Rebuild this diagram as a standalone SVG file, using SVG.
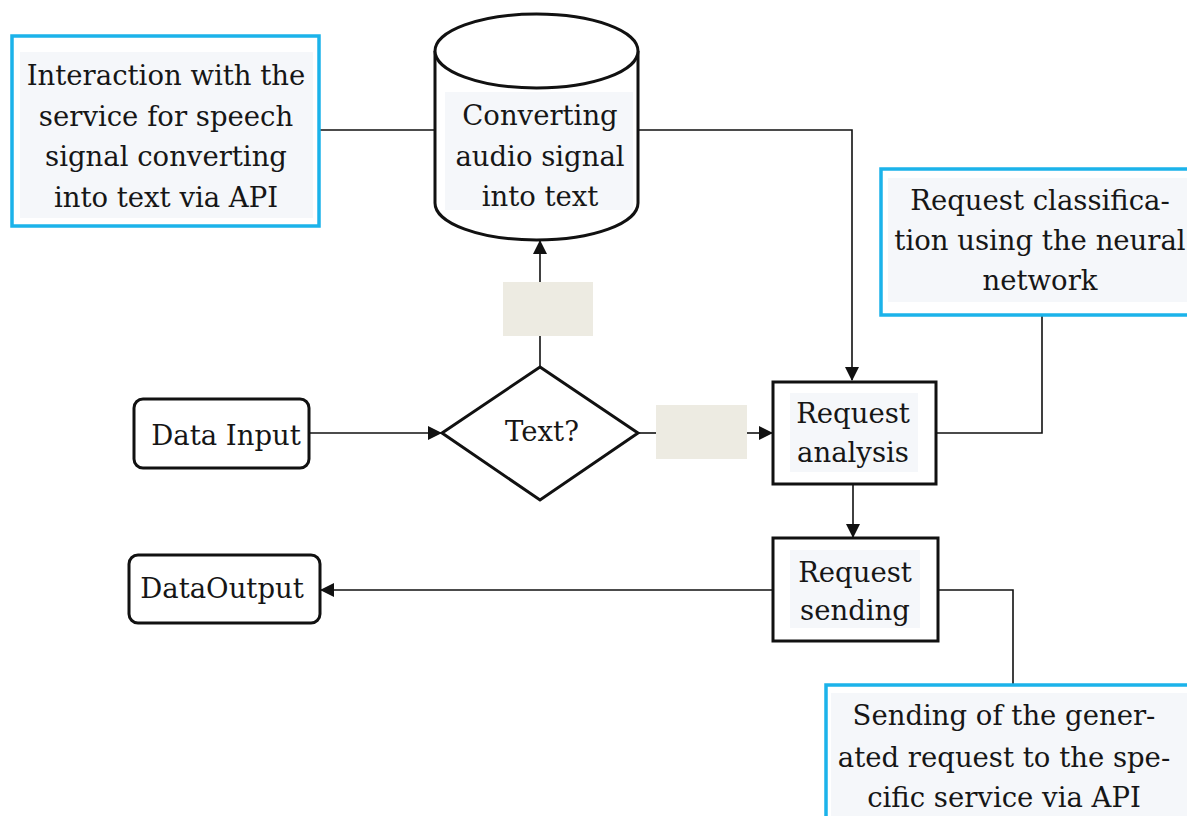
<svg xmlns="http://www.w3.org/2000/svg" width="1187" height="816" viewBox="0 0 1187 816">
  <defs>
    <style>
      .t { font-family: "DejaVu Serif", "Liberation Serif", serif; font-size: 27.5px; fill: #161616; text-anchor: middle; }
      .node { fill: #ffffff; stroke: #111111; stroke-width: 3; }
      .note { fill: #ffffff; stroke: #1bb3ea; stroke-width: 3.5; }
      .pad { fill: #f5f7fa; }
      .lbl { fill: #edebe2; }
      .wire { fill: none; stroke: #111111; stroke-width: 1.6; }
    </style>
    <marker id="arrow" viewBox="0 0 14 14" refX="13" refY="7" markerWidth="14" markerHeight="14" markerUnits="userSpaceOnUse" orient="auto">
      <path d="M0,0 L14,7 L0,14 Z" fill="#111111"/>
    </marker>
  </defs>

  <rect width="1187" height="816" fill="#ffffff"/>

  <!-- connectors -->
  <g id="connectors">
    <path class="wire" d="M319,130 H436"/>
    <path class="wire" d="M638,130 H852 V380" marker-end="url(#arrow)"/>
    <path class="wire" d="M309,433 H441" marker-end="url(#arrow)"/>
    <path class="wire" d="M540,367 V336"/>
    <path class="wire" d="M540,282 V241" marker-end="url(#arrow)"/>
    <path class="wire" d="M638,433 H656"/>
    <path class="wire" d="M747,433 H772" marker-end="url(#arrow)"/>
    <path class="wire" d="M1042,315 V433 H937"/>
    <path class="wire" d="M853,484 V537" marker-end="url(#arrow)"/>
    <path class="wire" d="M773,590 H321" marker-end="url(#arrow)"/>
    <path class="wire" d="M938,590 H1013 V685"/>
    <rect class="lbl" x="503" y="282" width="90" height="54"/>
    <rect class="lbl" x="656" y="405" width="91" height="54"/>
  </g>

  <!-- speech service note -->
  <g id="note-speech">
    <rect class="note" x="12" y="36" width="307" height="190"/>
    <rect class="pad" x="20" y="52" width="293" height="166"/>
    <text class="t" x="166" y="85">Interaction with the</text>
    <text class="t" x="166" y="126">service for speech</text>
    <text class="t" x="166" y="166">signal converting</text>
    <text class="t" x="166" y="207">into text via API</text>
  </g>

  <!-- audio to text store -->
  <g id="converter">
    <path class="node" d="M435,51 V203 A101.5,37 0 0 0 638,203 V51"/>
    <ellipse class="node" cx="536.5" cy="51" rx="101.5" ry="37"/>
    <rect class="pad" x="445" y="92" width="188" height="118"/>
    <text class="t" x="540" y="125">Converting</text>
    <text class="t" x="540" y="166">audio signal</text>
    <text class="t" x="540" y="206">into text</text>
  </g>

  <!-- classification note -->
  <g id="note-classify">
    <rect class="note" x="881" y="169" width="320" height="146"/>
    <rect class="pad" x="888" y="178" width="299" height="124"/>
    <text class="t" x="1040" y="210">Request classifica-</text>
    <text class="t" x="1040" y="250">tion using the neural</text>
    <text class="t" x="1040" y="290">network</text>
  </g>

  <!-- input -->
  <g id="data-input">
    <rect class="node" x="134" y="399" width="175" height="69" rx="9"/>
    <text class="t" x="226" y="445">Data Input</text>
  </g>

  <!-- decision -->
  <g id="decision">
    <path class="node" d="M540,367 L638,433 L540,500 L442,433 Z"/>
    <text class="t" x="542" y="441">Text?</text>
  </g>

  <!-- analysis -->
  <g id="analysis">
    <rect class="node" x="773" y="382" width="163" height="102"/>
    <rect class="pad" x="790" y="393" width="128" height="79"/>
    <text class="t" x="853" y="423">Request</text>
    <text class="t" x="853" y="462">analysis</text>
  </g>

  <!-- sending -->
  <g id="sending">
    <rect class="node" x="773" y="538" width="165" height="103"/>
    <rect class="pad" x="790" y="550" width="130" height="78"/>
    <text class="t" x="855" y="582">Request</text>
    <text class="t" x="855" y="620">sending</text>
  </g>

  <!-- output -->
  <g id="data-output">
    <rect class="node" x="129" y="555" width="191" height="68" rx="9"/>
    <text class="t" x="222" y="598">DataOutput</text>
  </g>

  <!-- dispatch note -->
  <g id="note-dispatch">
    <rect class="note" x="826" y="685" width="380" height="150"/>
    <rect class="pad" x="831" y="693" width="356" height="130"/>
    <text class="t" x="1004" y="725">Sending of the gener-</text>
    <text class="t" x="1004" y="767">ated request to the spe-</text>
    <text class="t" x="1004" y="807">cific service via API</text>
  </g>
</svg>
